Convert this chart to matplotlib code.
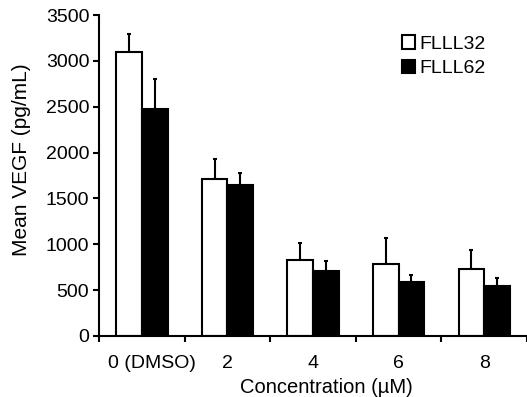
import numpy as np
import matplotlib.pyplot as plt
from matplotlib.transforms import ScaledTranslation

plt.rcParams['font.family'] = ['Liberation Sans', 'DejaVu Sans']

# data
categories = ['0 (DMSO)', '2', '4', '6', '8']
flll32 = [3100, 1710, 826, 786, 731]
flll32_err = [190, 218, 185, 284, 208]
flll62 = [2475, 1641, 713, 590, 546]
flll62_err = [330, 135, 103, 76, 84]

fig = plt.figure(figsize=(5.27, 3.97), dpi=100)
ax = fig.add_axes([0.188, 0.154, 0.812, 0.808])

x = np.arange(len(categories))
w = 0.3
lw = 1.5

ax.bar(x - w / 2, flll32, w, color='white', edgecolor='black', linewidth=lw,
       label='FLLL32', zorder=2)
ax.bar(x + w / 2, flll62, w, color='black', edgecolor='black', linewidth=lw,
       label='FLLL62', zorder=2)

ax.errorbar(x - w / 2, flll32, yerr=[np.zeros(len(x)), flll32_err], fmt='none',
            ecolor='black', elinewidth=lw, capsize=1.5, capthick=lw, zorder=1)
ax.errorbar(x + w / 2, flll62, yerr=[np.zeros(len(x)), flll62_err], fmt='none',
            ecolor='black', elinewidth=lw, capsize=1.5, capthick=lw, zorder=1)

ax.set_xlim(-0.5, 4.5)
ax.set_ylim(0, 3500)
ax.set_yticks(np.arange(0, 3501, 500))

ax.set_xticks(x)
ax.set_xticklabels(categories)
ax.set_xticks(np.arange(-0.5, 4.6, 1), minor=True)
ax.tick_params(axis='x', which='major', length=0, pad=14, labelsize=14)
ax.tick_params(axis='x', which='minor', length=4, width=1.5, direction='out')
ax.tick_params(axis='y', length=4, width=1.5, direction='out', labelsize=14, pad=3)

# the first label sits a little to the right of its group
first = ax.get_xticklabels()[0]
first.set_transform(first.get_transform() + ScaledTranslation(10 / 100, 0, fig.dpi_scale_trans))

for s in ['top', 'right']:
    ax.spines[s].set_visible(False)
for s in ['left', 'bottom']:
    ax.spines[s].set_linewidth(1.5)

ax.set_ylabel('Mean VEGF (pg/mL)', fontsize=15)
ax.yaxis.set_label_coords(-0.16, 0.55)
ax.set_xlabel('Concentration (µM)', fontsize=14.5)
ax.xaxis.set_label_coords(0.53, -0.13)

ax.legend(loc='upper right', bbox_to_anchor=(0.944, 0.992), frameon=False, fontsize=14,
          handlelength=0.7, handleheight=0.7, handletextpad=0.2, labelspacing=0.35)

fig.savefig('out.png', dpi=100)
